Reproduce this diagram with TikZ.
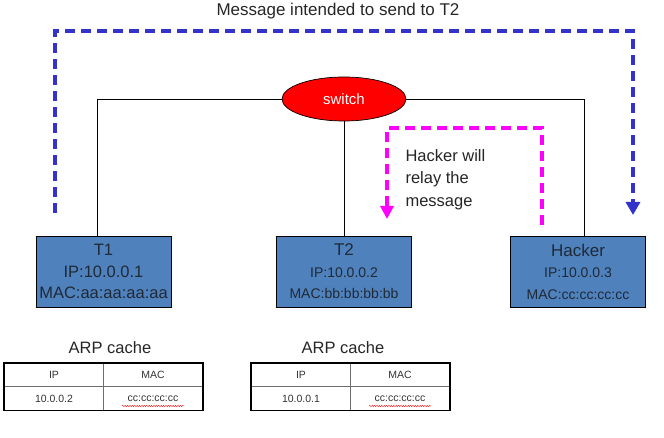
\documentclass[tikz,border=0pt]{standalone}
\usepackage{fontspec}
\setmainfont{Liberation Sans}
\usepackage{tikz}
\usetikzlibrary{arrows.meta,calc,shapes.geometric,positioning,decorations.pathmorphing}
\definecolor{hostblue}{HTML}{4F81BD}
\definecolor{hosttext}{HTML}{1F2A36}
\definecolor{msgblue}{HTML}{3333CC}
\definecolor{relaypink}{HTML}{FF00FF}
\definecolor{cellline}{HTML}{6E6E6E}

\begin{document}
\begin{tikzpicture}[x=1pt,y=-1pt]
    \tikzset{host/.style={draw,line width=0.9pt,fill=hostblue,text=hosttext,
        minimum width=135pt,minimum height=71pt,inner sep=0pt,align=center},
      wire/.style={line width=0.8pt},
      msgline/.style={draw=msgblue,line width=3.2pt,dash pattern=on 10pt off 6pt,
        -{Triangle[width=14pt,length=13pt]}},
      relayline/.style={draw=relaypink,line width=3.2pt,dash pattern=on 10pt off 6pt,
        -{Triangle[width=13pt,length=13pt]}},
      cell/.style={draw=cellline,line width=0.6pt,minimum width=99.5pt,minimum height=23.5pt,
        inner sep=0pt,font=\fontsize{10.5}{12}\selectfont,text=black!80},
      squiggle/.style={draw=red,line width=0.4pt,decorate,
        decoration={snake,amplitude=0.6pt,segment length=2.4pt}}}
    \useasboundingbox (0,0) rectangle (664,438);
    \node[font=\fontsize{17}{20}\selectfont,text=black!85] (title) at (338,11) {Message intended to send to T2};
    \node[draw,line width=0.7pt,fill=red,ellipse,minimum width=124pt,minimum height=44pt,
      text=white,font=\fontsize{15}{18}\selectfont] (sw) at (344,99) {switch};
    \node[host,font=\fontsize{16.5}{21.5}\selectfont] (T1) at (103.5,271.5) {T1\\IP:10.0.0.1\\MAC:aa:aa:aa:aa};
    \node[host,font=\fontsize{14}{21.5}\selectfont] (T2) at (344,271.5) {{\fontsize{17}{21.5}\selectfont T2}\\IP:10.0.0.2\\MAC:bb:bb:bb:bb};
    \node[host,font=\fontsize{14}{21.5}\selectfont] (hacker) at (578,271.5) {{\fontsize{17}{21.5}\selectfont Hacker}\\IP:10.0.0.3\\MAC:cc:cc:cc:cc};
    \draw[wire] (sw.west) -| ([xshift=-6.5pt]T1.north);
    \draw[wire] (sw.east) -| ([xshift=6pt]hacker.north);
    \draw[wire] (sw.south) -- (sw.south |- T2.north);
    % message meant for T2
    \coordinate (msgstart) at (55,213);
    \coordinate (msgtl) at (55,31);
    \coordinate (msgtr) at (633,31);
    \coordinate (msgend) at (633,215);
    \draw[msgline] (msgstart) -- (msgtl) -- (msgtr) -- (msgend);
    % relayed by the hacker
    \coordinate (relaystart) at (542,225);
    \coordinate (relaytr) at (542,128);
    \coordinate (relaytl) at (387,128);
    \coordinate (relayend) at (387,219);
    \draw[relayline] (relaystart) -- (relaytr) -- (relaytl) -- (relayend);
    \node[anchor=north west,align=left,text=black!85,font=\fontsize{16.5}{22.5}\selectfont] (relay) at (402,146) {Hacker will\\relay the\\message};
    % ARP caches
    \node[font=\fontsize{16.5}{20}\selectfont,text=black!85] (arpA) at (110,348) {ARP cache};
    \node[cell] (ipA) at (54,375) {IP};
    \node[cell] (macA) at (153,375) {MAC};
    \node[cell] (ipvalA) at (54,398.5) {10.0.0.2};
    \node[cell] (macvalA) at (153,398.5) {cc:cc:cc:cc};
    \draw[line width=1.8pt] (ipA.north west) rectangle (macvalA.south east);
    \draw[squiggle] ($(macvalA.center)+(-31,7.5)$) -- ++(62,0);
    \node[font=\fontsize{16.5}{20}\selectfont,text=black!85] (arpB) at (343,348) {ARP cache};
    \node[cell] (ipB) at (301,375) {IP};
    \node[cell] (macB) at (400,375) {MAC};
    \node[cell] (ipvalB) at (301,398.5) {10.0.0.1};
    \node[cell] (macvalB) at (400,398.5) {cc:cc:cc:cc};
    \draw[line width=1.8pt] (ipB.north west) rectangle (macvalB.south east);
    \draw[squiggle] ($(macvalB.center)+(-31,7.5)$) -- ++(62,0);
\end{tikzpicture}
\end{document}
